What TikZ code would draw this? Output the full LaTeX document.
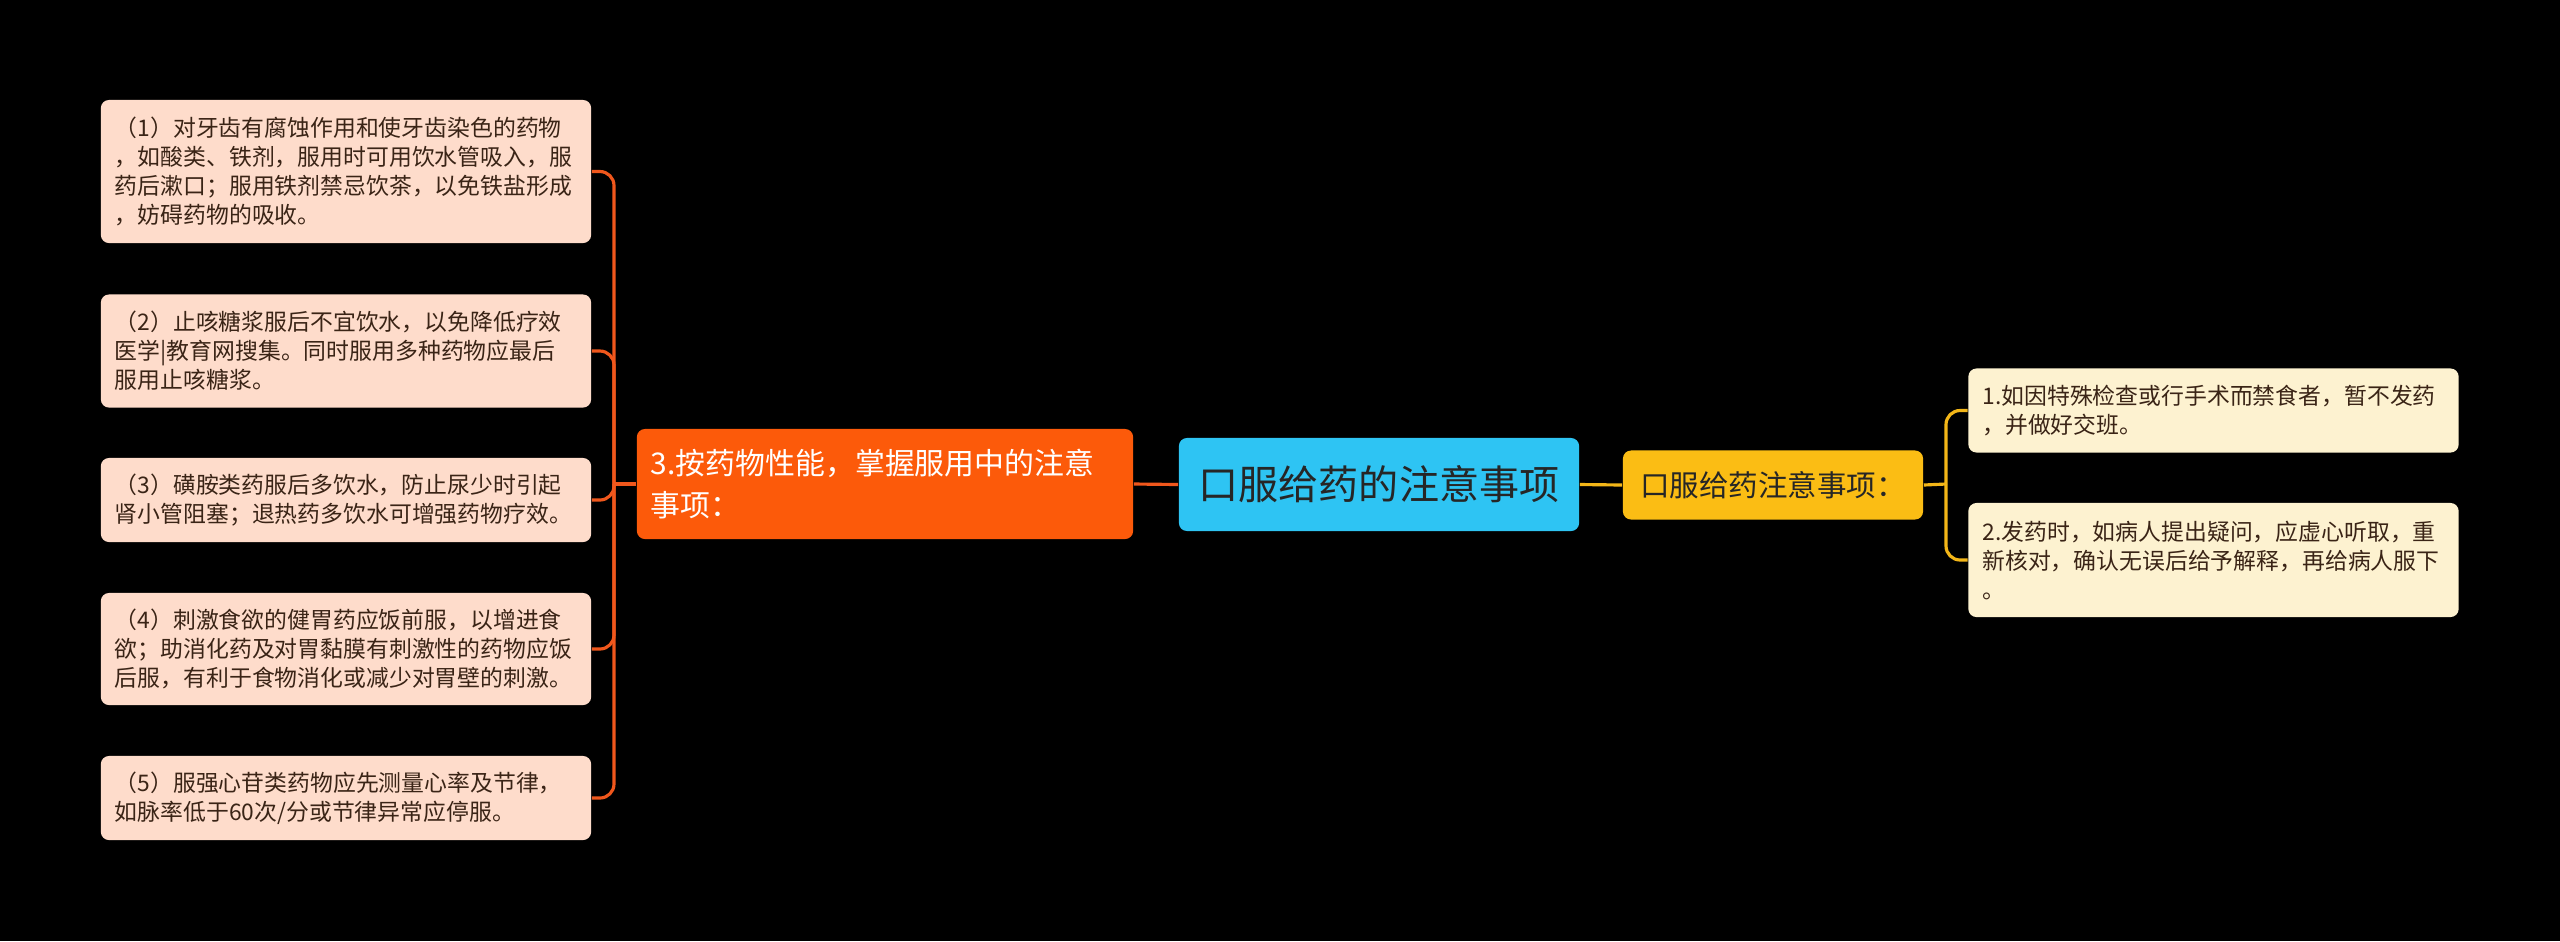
\documentclass[tikz,border=0pt]{standalone}
\usepackage{fontspec}
\setmainfont{Noto Sans CJK SC}

\definecolor{rootblue}{HTML}{2EC4F3}
\definecolor{branchorange}{HTML}{FC5A0A}
\definecolor{leafpeach}{HTML}{FEDCCB}
\definecolor{lineorange}{HTML}{F0571C}
\definecolor{branchyellow}{HTML}{FBBD14}
\definecolor{leafcream}{HTML}{FDF2D0}
\definecolor{lineyellow}{HTML}{F3B618}
\definecolor{textdark}{HTML}{262626}
\definecolor{textbrown}{HTML}{3A2416}

\begin{document}
\begin{tikzpicture}[
    x=0.01cm, y=-0.01cm,
    every node/.style={rounded corners=2.3pt, inner ysep=0pt},
    leaf/.style={text width=4.62cm, inner xsep=0.14cm, align=left,
        font=\fontsize{6.5pt}{8.25pt}\selectfont},
    leafa/.style={leaf, fill=leafpeach, text=textbrown},
    leafb/.style={leaf, fill=leafcream, text=textbrown},
    linka/.style={draw=lineorange, line width=0.9pt, rounded corners=4pt},
    linkb/.style={draw=lineyellow, line width=0.9pt, rounded corners=4pt}
]

\fill[black] (0,0) rectangle (2560,941);
\useasboundingbox (0,0) rectangle (2560,941);

% ================= root =================

\node[fill=rootblue, text=textdark, minimum width=4cm, minimum height=0.93cm,
      font=\fontsize{11.4pt}{14pt}\selectfont] (m) at (1379,484.5)
{口服给药的注意事项};

% ================= left branch =================

\node[fill=branchorange, text=white, text width=4.68cm, inner xsep=0.14cm,
      align=left, minimum height=1.1cm,
      font=\fontsize{8.5pt}{12pt}\selectfont] (a) at (885,484)
{3.按药物性能，掌握服用中的注意\\事项：};

\node[leafa, minimum height=1.43cm] (a1) at (346,171.5)
{（1）对牙齿有腐蚀作用和使牙齿染色的药物\\，如酸类、铁剂，服用时可用饮水管吸入，服\\药后漱口；服用铁剂禁忌饮茶，以免铁盐形成\\，妨碍药物的吸收。};

\node[leafa, minimum height=1.13cm] (a2) at (346,351)
{（2）止咳糖浆服后不宜饮水，以免降低疗效\\医学|教育网搜集。同时服用多种药物应最后\\服用止咳糖浆。};

\node[leafa, minimum height=0.84cm] (a3) at (346,500)
{（3）磺胺类药服后多饮水，防止尿少时引起\\肾小管阻塞；退热药多饮水可增强药物疗效。};

\node[leafa, minimum height=1.12cm] (a4) at (346,649)
{（4）刺激食欲的健胃药应饭前服，以增进食\\欲；助消化药及对胃黏膜有刺激性的药物应饭\\后服，有利于食物消化或减少对胃壁的刺激。};

\node[leafa, minimum height=0.84cm] (a5) at (346,798)
{（5）服强心苷类药物应先测量心率及节律，\\如脉率低于60次/分或节律异常应停服。};

\coordinate (sa) at (614,484);

\draw[linka] (m.west) -- (a.east);
\draw[linka] (a.west) -- (sa);
\draw[linka] (sa) |- (a1.east);
\draw[linka] (sa) |- (a2.east);
\draw[linka] (sa) |- (a3.east);
\draw[linka] (sa) |- (a4.east);
\draw[linka] (sa) |- (a5.east);

% ================= right branch =================

\node[fill=branchyellow, text=textdark, minimum width=3cm, minimum height=0.69cm,
      font=\fontsize{8.4pt}{11pt}\selectfont] (b) at (1773,485)
{口服给药注意事项：};

\node[leafb, minimum height=0.84cm] (b1) at (2213.5,410.5)
{1.如因特殊检查或行手术而禁食者，暂不发药\\，并做好交班。};

\node[leafb, minimum height=1.14cm] (b2) at (2213.5,560)
{2.发药时，如病人提出疑问，应虚心听取，重\\新核对，确认无误后给予解释，再给病人服下\\。};

\coordinate (sb) at (1946,484);

\draw[linkb] (m.east) -- (b.west);
\draw[linkb] (b.east) -- (sb);
\draw[linkb] (sb) |- (b1.west);
\draw[linkb] (sb) |- (b2.west);

\end{tikzpicture}
\end{document}
